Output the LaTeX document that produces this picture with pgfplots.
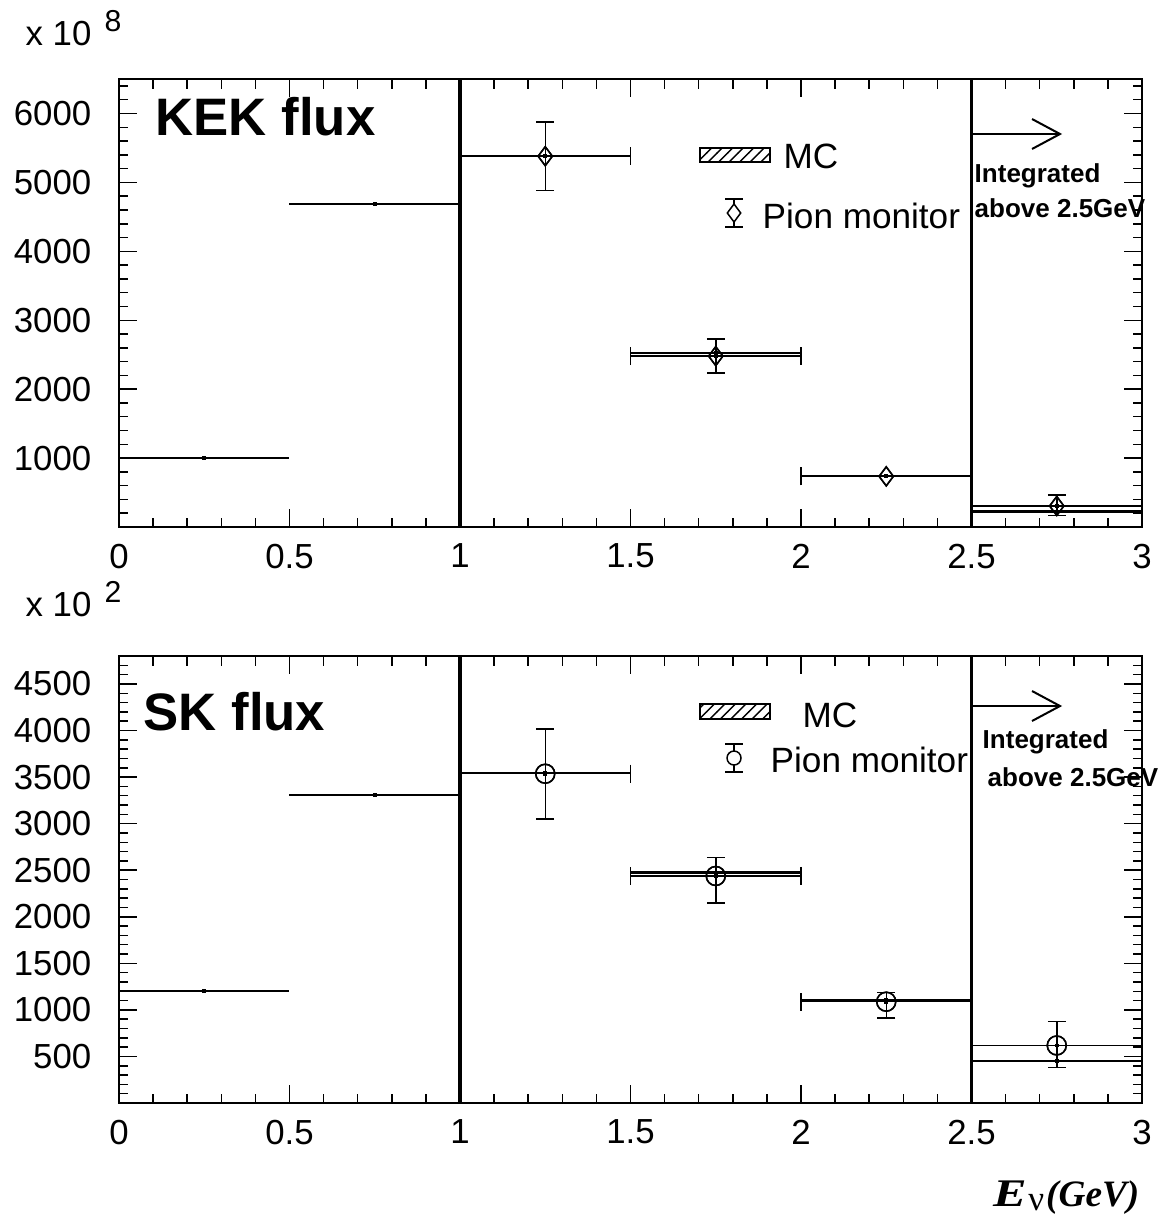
\documentclass[border=0pt]{standalone}
\usepackage{fontspec}
\setmainfont{Liberation Sans}
\newfontfamily\timesfont{Liberation Serif}
\usepackage{pgfplots}
\usepackage{pgfplotstable}
\pgfplotsset{compat=1.18}
\usetikzlibrary{patterns}

\pgfplotstableread{
x y
0.25 1005
0.75 4685
1.25 5380
1.75 2530
2.25 738
2.75 225
}\kekmc
\pgfplotstableread{
x y ep em
1.25 5380 495 500
1.75 2480 250 245
2.25 735 0 0
2.75 305 160 140
}\kekpi
\pgfplotstableread{
x y
0.25 1200
0.75 3305
1.25 3540
1.75 2475
2.25 1105
2.75 450
}\skmc
\pgfplotstableread{
x y ep em
1.25 3536 480 485
1.75 2438 198 290
2.25 1088 98 177
2.75 618 257 239
}\skpi

\pgfplotsset{
  rootaxis/.style={
    scale only axis, width=102.3mm,
    xmin=0, xmax=3, ymin=0,
    xtick={0,0.5,1,1.5,2,2.5,3},
    minor xtick={0.1,0.2,...,2.95},
    tick align=inside,
    major tick length=1.8mm, minor tick length=0.95mm,
    axis line style={line width=0.2mm},
    every tick/.style={black, line width=0.15mm},
    tick label style={font=\fontsize{9.9}{11}\selectfont, inner sep=0pt},
    xticklabel style={anchor=north, yshift=-1.6mm},
    yticklabel style={anchor=east, xshift=-2.7mm},
    /pgf/number format/assume math mode=true,
    /pgf/number format/1000 sep={},
    scaled ticks=false,
    clip=false,
  },
  mcstyle/.style={only marks, mark=square*, mark size=0.12mm, black,
    error bars/.cd, x dir=both, x fixed=0.25, error mark=none,
    error bar style={line width=0.22mm, black}},
  pistyle/.style 2 args={only marks, mark=#1, mark size=#2, black,
    mark options={fill=white, line width=0.15mm},
    error bars/.cd, x dir=both, x fixed=0.25, y dir=both, y explicit,
    error bar style={line width=0.15mm, black},
    error mark options={rotate=90, mark size=0.9mm, line width=0.15mm}},
  pimarks/.style 2 args={only marks, mark=#1, mark size=#2, black,
    mark options={fill=white, line width=0.15mm}},
  pidots/.style={only marks, mark=square*, mark size=0.12mm, black},
}

\begin{document}
\begin{tikzpicture}
\path[use as bounding box] (0,0) rectangle (115.7mm,-121.8mm);

% ---------------- top panel ----------------
\begin{axis}[rootaxis, height=44.8mm, ymax=6500,
  at={(11.9mm,-52.7mm)}, anchor=south west,
  ytick={1000,2000,3000,4000,5000,6000},
  minor ytick={200,400,...,6450}]
  \addplot[black, line width=0.32mm] coordinates {(1,0) (1,6500)};
  \addplot[black, line width=0.32mm] coordinates {(2.5,0) (2.5,6500)};
  \addplot[mcstyle] table[x=x, y=y] {\kekmc};
  \addplot[pistyle={diamond}{0.95mm}]
    table[x=x, y=y, y error plus=ep, y error minus=em] {\kekpi};
  \addplot[pimarks={diamond}{0.95mm}] table[x=x, y=y] {\kekpi};
  \addplot[pidots] table[x=x, y=y] {\kekpi};
\end{axis}

% ---------------- bottom panel ----------------
\begin{axis}[rootaxis, height=44.7mm, ymax=4800,
  at={(11.9mm,-110.3mm)}, anchor=south west,
  ytick={500,1000,1500,2000,2500,3000,3500,4000,4500},
  minor ytick={100,200,...,4750}]
  \addplot[black, line width=0.32mm] coordinates {(1,0) (1,4800)};
  \addplot[black, line width=0.32mm] coordinates {(2.5,0) (2.5,4800)};
  \addplot[mcstyle] table[x=x, y=y] {\skmc};
  \addplot[pistyle={o}{0.95mm}]
    table[x=x, y=y, y error plus=ep, y error minus=em] {\skpi};
  \addplot[pimarks={o}{0.95mm}] table[x=x, y=y] {\skpi};
  \addplot[pidots] table[x=x, y=y] {\skpi};
\end{axis}

% ---------------- annotations (1 unit = 1 reference pixel) ----------------
\begin{scope}[x=0.1mm, y=-0.1mm]
  % exponent labels
  \node[anchor=base west, inner sep=0, font=\fontsize{9.9}{11}\selectfont] at (25,45) {x 10};
  \node[anchor=base west, inner sep=0, font=\fontsize{8.6}{10}\selectfont] at (104,31) {8};
  \node[anchor=base west, inner sep=0, font=\fontsize{9.9}{11}\selectfont] at (25,616) {x 10};
  \node[anchor=base west, inner sep=0, font=\fontsize{8.6}{10}\selectfont] at (104,602) {2};

  % titles
  \node[anchor=base west, inner sep=0, font=\bfseries\fontsize{15}{17}\selectfont] at (155,135) {KEK flux};
  \node[anchor=base west, inner sep=0, font=\bfseries\fontsize{15}{17}\selectfont] at (143,730) {SK flux};

  % top legend
  \draw[line width=0.15mm, pattern=north east lines] (700,148) rectangle (770,162);
  \node[anchor=base west, inner sep=0, font=\fontsize{10}{12}\selectfont] at (783,168) {MC};
  \draw[line width=0.15mm] (734,199) -- (734,227);
  \draw[line width=0.15mm] (725,199) -- (743,199);
  \draw[line width=0.15mm] (725,227) -- (743,227);
  \draw[line width=0.15mm, fill=white] (734,204) -- (740.7,213) -- (734,222) -- (727.3,213) -- cycle;
  \node[anchor=base west, inner sep=0, font=\fontsize{10}{12}\selectfont] at (762,228) {Pion monitor};

  % bottom legend
  \draw[line width=0.15mm, pattern=north east lines] (700,704) rectangle (770,719);
  \node[anchor=base west, inner sep=0, font=\fontsize{10}{12}\selectfont] at (802,727) {MC};
  \draw[line width=0.15mm] (734,744) -- (734,772);
  \draw[line width=0.15mm] (725,744) -- (743,744);
  \draw[line width=0.15mm] (725,772) -- (743,772);
  \draw[line width=0.15mm, fill=white] (734,758) circle[radius=7];
  \node[anchor=base west, inner sep=0, font=\fontsize{10}{12}\selectfont] at (770,772) {Pion monitor};

  % arrows and integrated notes
  \draw[line width=0.2mm] (971,134) -- (1060,134);
  \draw[line width=0.2mm] (1032,119) -- (1060,134) -- (1032,149);
  \node[anchor=base west, inner sep=0, font=\bfseries\fontsize{7.4}{9}\selectfont] at (974,182) {Integrated};
  \node[anchor=base west, inner sep=0, font=\bfseries\fontsize{7.4}{9}\selectfont] at (974,217) {above 2.5GeV};

  \draw[line width=0.2mm] (971,706) -- (1060,706);
  \draw[line width=0.2mm] (1032,691) -- (1060,706) -- (1032,721);
  \node[anchor=base west, inner sep=0, font=\bfseries\fontsize{7.4}{9}\selectfont] at (982,748) {Integrated};
  \node[anchor=base west, inner sep=0, font=\bfseries\fontsize{7.4}{9}\selectfont] at (987,786) {above 2.5GeV};

  % x axis title
  \node[anchor=base east, inner sep=0] at (1140,1206)
    {\timesfont\fontsize{10.6}{12}\selectfont\bfseries\itshape \scalebox{1.35}[1.05]{E}\kern0.05em\raisebox{-0.45mm}{\normalfont\timesfont\fontsize{10}{12}\selectfont ν}\kern0.05em(GeV)};
\end{scope}
\end{tikzpicture}
\end{document}
